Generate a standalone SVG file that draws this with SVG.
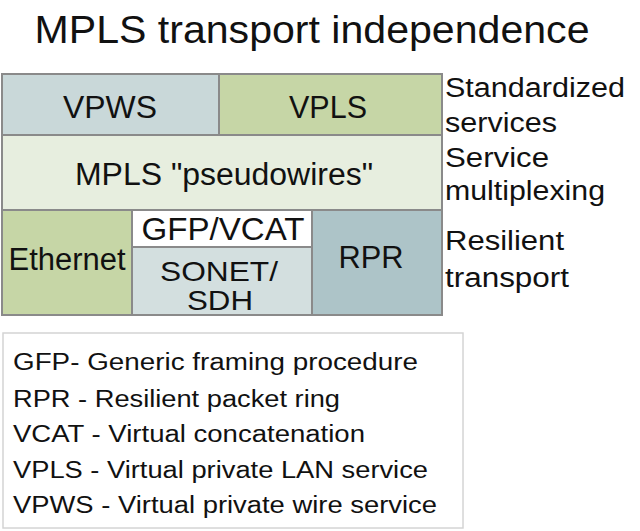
<svg xmlns="http://www.w3.org/2000/svg" width="640" height="531" viewBox="0 0 640 531">
<style>
text{font-family:"Liberation Sans",Arial,sans-serif;fill:#111}
.cell{stroke:#8a8a8a;stroke-width:2}
.lbl{font-size:31px;text-anchor:middle}
.lbs{font-size:28px;text-anchor:middle}
.side{font-size:27px}
.leg{font-size:23px}
</style>
<rect width="640" height="531" fill="#fff"/>
<text x="312" y="43" font-size="38" text-anchor="middle" textLength="555" lengthAdjust="spacingAndGlyphs">MPLS transport independence</text>
<g id="vpws"><rect class="cell" x="2" y="74" width="217" height="61" fill="#c9d8d9"/><text class="lbl" x="110" y="118" textLength="94" lengthAdjust="spacingAndGlyphs">VPWS</text></g>
<g id="vpls"><rect class="cell" x="219" y="74" width="223" height="61" fill="#c6d6a6"/><text class="lbl" x="328" y="118" textLength="78" lengthAdjust="spacingAndGlyphs">VPLS</text></g>
<g id="mpls"><rect class="cell" x="2" y="135" width="440" height="75" fill="#e7eedf"/><text class="lbl" x="224" y="185" textLength="298" lengthAdjust="spacingAndGlyphs">MPLS "pseudowires"</text></g>
<g id="ethernet"><rect class="cell" x="2" y="210" width="130" height="105" fill="#c6d6a6"/><text class="lbl" x="67" y="270" textLength="117" lengthAdjust="spacingAndGlyphs">Ethernet</text></g>
<g id="gfpvcat"><rect class="cell" x="132" y="210" width="180" height="37" fill="#ffffff"/><text class="lbl" x="223" y="240" textLength="163" lengthAdjust="spacingAndGlyphs">GFP/VCAT</text></g>
<g id="sonet"><rect class="cell" x="132" y="247" width="180" height="68" fill="#d3dfdf"/><text class="lbs" x="219" y="281" textLength="118" lengthAdjust="spacingAndGlyphs">SONET/</text><text class="lbs" x="220" y="310" textLength="66" lengthAdjust="spacingAndGlyphs">SDH</text></g>
<g id="rpr"><rect class="cell" x="312" y="210" width="130" height="105" fill="#adc4c8"/><text class="lbl" x="371" y="268" textLength="65" lengthAdjust="spacingAndGlyphs">RPR</text></g>
<g id="side-labels">
<text class="side" x="445" y="97" textLength="180" lengthAdjust="spacingAndGlyphs">Standardized</text>
<text class="side" x="445" y="132" textLength="112" lengthAdjust="spacingAndGlyphs">services</text>
<text class="side" x="445" y="167" textLength="104" lengthAdjust="spacingAndGlyphs">Service</text>
<text class="side" x="445" y="200" textLength="160" lengthAdjust="spacingAndGlyphs">multiplexing</text>
<text class="side" x="445" y="250" textLength="119" lengthAdjust="spacingAndGlyphs">Resilient</text>
<text class="side" x="445" y="287" textLength="124" lengthAdjust="spacingAndGlyphs">transport</text>
</g>
<g id="legend">
<rect x="3" y="333" width="460" height="195" fill="#fff" stroke="#d4d4d4" stroke-width="1.5"/>
<text class="leg" x="13" y="370" textLength="405" lengthAdjust="spacingAndGlyphs">GFP- Generic framing procedure</text>
<text class="leg" x="13" y="407" textLength="327" lengthAdjust="spacingAndGlyphs">RPR - Resilient packet ring</text>
<text class="leg" x="13" y="442" textLength="352" lengthAdjust="spacingAndGlyphs">VCAT - Virtual concatenation</text>
<text class="leg" x="13" y="478" textLength="415" lengthAdjust="spacingAndGlyphs">VPLS - Virtual private LAN service</text>
<text class="leg" x="13" y="513" textLength="424" lengthAdjust="spacingAndGlyphs">VPWS - Virtual private wire service</text>
</g>
</svg>
